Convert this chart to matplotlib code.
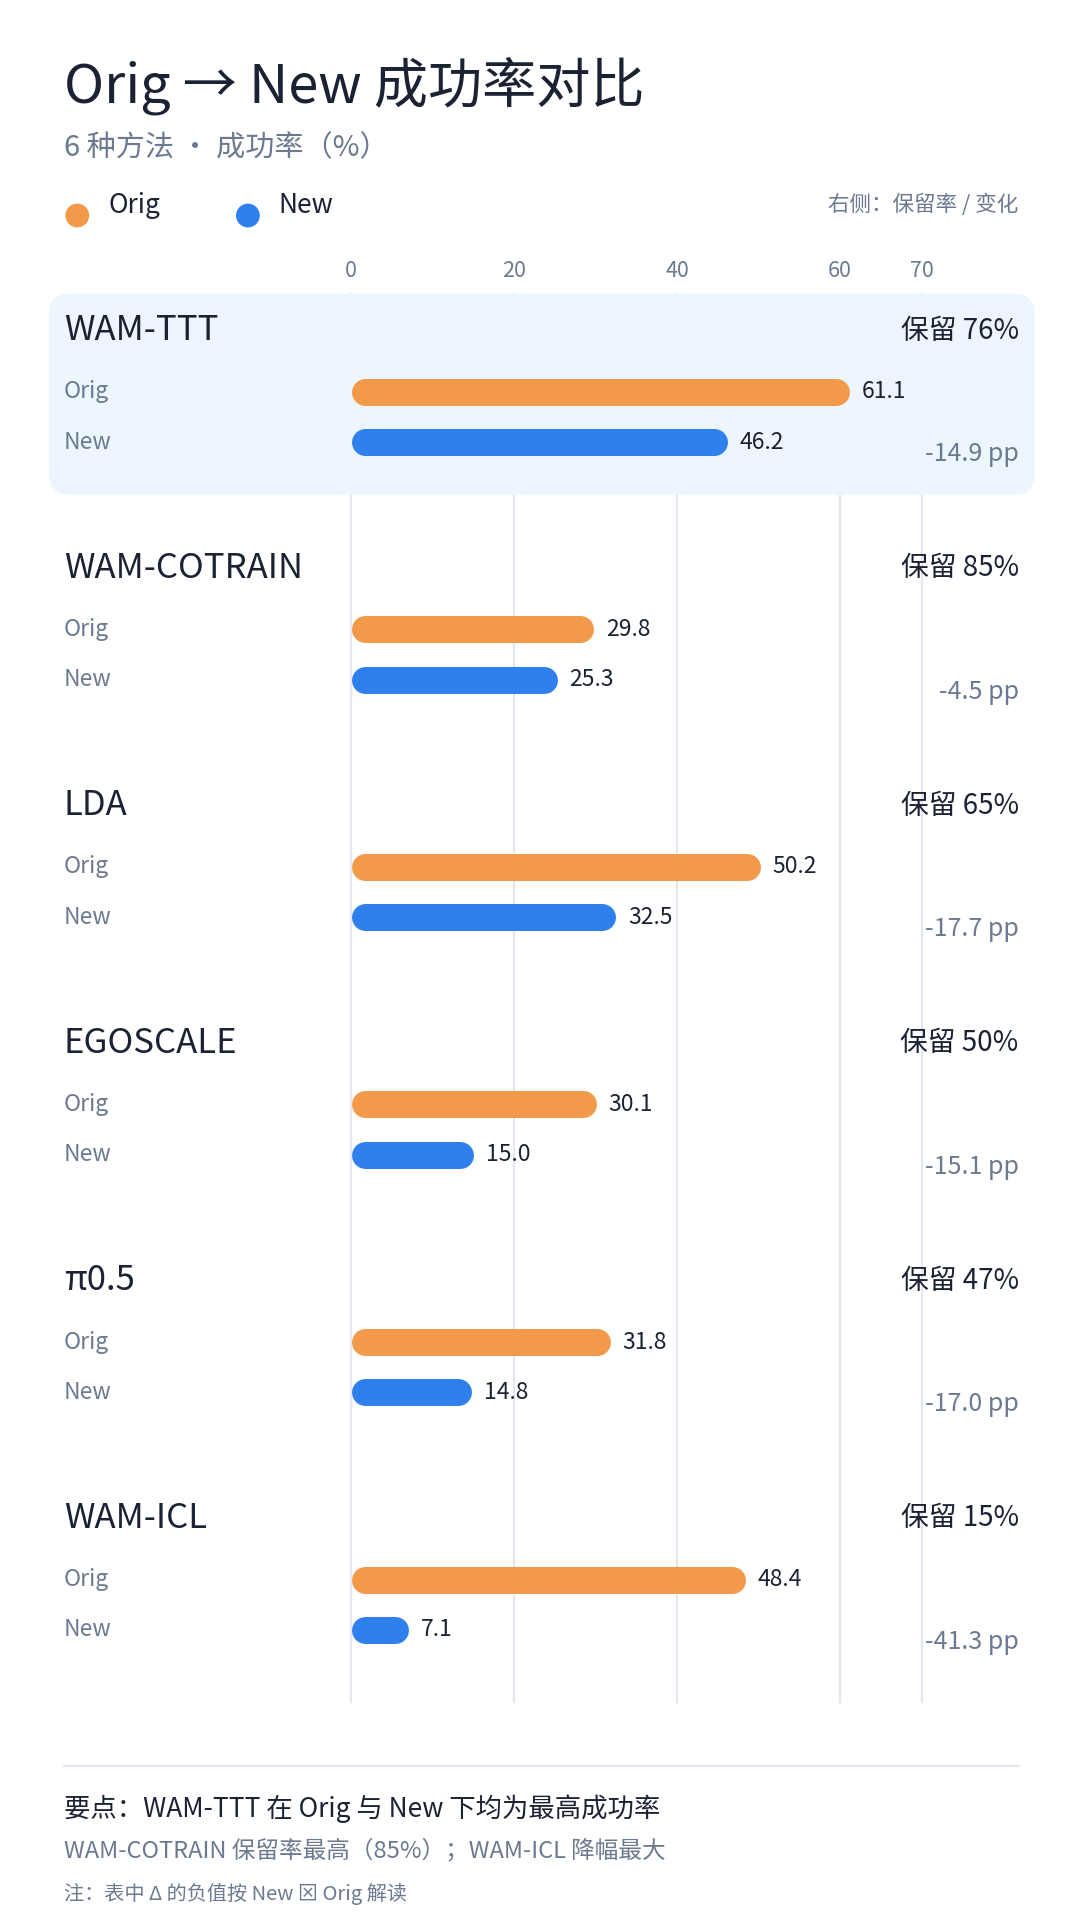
import matplotlib
matplotlib.use('Agg')
import matplotlib.pyplot as plt
from matplotlib.patches import FancyBboxPatch

plt.rcParams['font.family'] = ['Noto Sans CJK SC', 'DejaVu Sans']

methods = ['WAM-TTT', 'WAM-COTRAIN', 'LDA', 'EGOSCALE', 'π0.5', 'WAM-ICL']
orig = [61.1, 29.8, 50.2, 30.1, 31.8, 48.4]
new = [46.2, 25.3, 32.5, 15.0, 14.8, 7.1]
retain = [76, 85, 65, 50, 47, 15]
delta = [-14.9, -4.5, -17.7, -15.1, -17.0, -41.3]
ticks = [0, 20, 40, 60, 70]

ORANGE = '#f29a4a'
BLUE = '#2f80ed'
DARK = '#1a2233'
GRAY = '#6b7a90'
GRID = '#e3e7ef'

# layout in a 880x1568 reference frame; x data = percent values
X0 = 286
K = (751 - 286) / 70.0
def px(x):
    return (x - X0) / K

fig = plt.figure(figsize=(10.8, 19.2), dpi=100)
ax = fig.add_axes([0, 0, 1, 1])
ax.set_xlim(px(0), px(880))
ax.set_ylim(1568, 0)
ax.axis('off')

ax.text(px(52), 70, 'Orig → New 成功率对比', fontsize=39, color=DARK, va='center')
ax.text(px(52), 121, '6 种方法 · 成功率（%）', fontsize=21, color=GRAY, va='center')
ax.scatter([px(63), px(202)], [176, 176], s=260, color=[ORANGE, BLUE], zorder=3)
ax.text(px(88), 168, 'Orig', fontsize=19, color=DARK, va='center')
ax.text(px(227), 168, 'New', fontsize=19, color=DARK, va='center')
ax.text(px(830), 167, '右侧：保留率 / 变化', fontsize=15.5, color=GRAY, va='center', ha='right')

for t in ticks:
    ax.text(t, 221, str(t), fontsize=15.5, color=GRAY, ha='center', va='center')
    ax.plot([t, t], [240, 1390], color=GRID, lw=1.5, zorder=0)

ax.add_patch(FancyBboxPatch((px(40), 240), px(843) - px(40), 164,
                            boxstyle=f'round,pad=0,rounding_size={16 / K}',
                            mutation_aspect=K, fc='#edf5fe', ec='none', zorder=0.5))

r = 11 / K
lw = 22 * 1.227 * 0.72
for i, m in enumerate(methods):
    y = 270 + 194 * i
    ax.text(px(52), y, m, fontsize=25, color=DARK, va='center')
    ax.text(px(830), y, f'保留 {retain[i]}%', fontsize=20, color=DARK, va='center', ha='right')
    for v, c, lab, yy in [(orig[i], ORANGE, 'Orig', y + 50), (new[i], BLUE, 'New', y + 91)]:
        ax.text(px(52), yy, lab, fontsize=16.5, color=GRAY, va='center')
        ax.plot([r, v - r], [yy, yy], color=c, lw=lw, solid_capstyle='round', zorder=2)
        ax.text(v + 10 / K, yy, f'{v:.1f}', fontsize=16.5, color=DARK, va='center')
    ax.text(px(830), y + 101, f'{delta[i]:.1f} pp', fontsize=18, color=GRAY, va='center', ha='right')

ax.plot([px(52), px(830)], [1442, 1442], color=GRID, lw=1.5)
ax.text(px(52), 1477, '要点：WAM-TTT 在 Orig 与 New 下均为最高成功率', fontsize=19, color=DARK, va='center')
ax.text(px(52), 1511, 'WAM-COTRAIN 保留率最高（85%）；WAM-ICL 降幅最大', fontsize=17, color=GRAY, va='center')
ax.text(px(52), 1547, '注：表中 Δ 的负值按 New ⊠ Orig 解读', fontsize=14.5, color=GRAY, va='center')

fig.savefig('out.png', dpi=100, facecolor='white')
